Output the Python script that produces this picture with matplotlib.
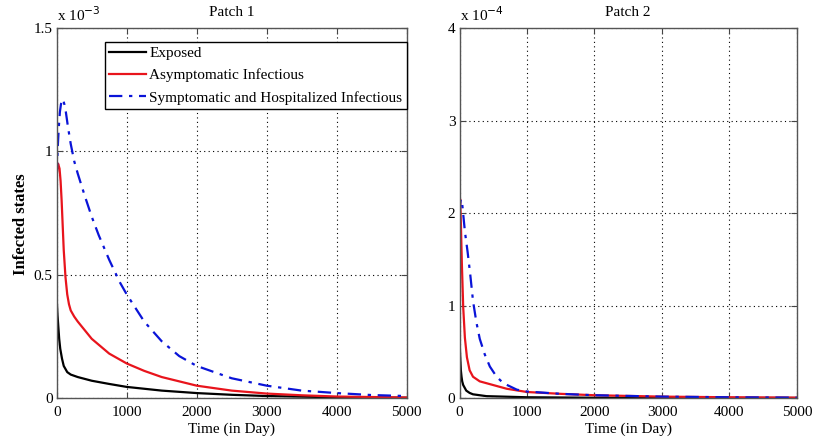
import matplotlib.pyplot as plt

plt.rcParams['font.family'] = 'Liberation Serif'
plt.rcParams['font.size'] = 11

# Patch 1 (values in units of 1e-3)
t_exp1 = [0, 10, 20, 35, 50, 75, 100, 150, 200, 300, 500, 750, 1000, 1500, 2000, 2500, 3000, 4000, 5000]
exposed1 = [0.40, 0.34, 0.30, 0.24, 0.20, 0.16, 0.13, 0.105, 0.095, 0.085, 0.07, 0.057, 0.045, 0.03, 0.02, 0.013, 0.008, 0.003, 0.001]

t_asym1 = [0, 10, 20, 40, 55, 70, 85, 100, 125, 150, 175, 200, 250, 300, 400, 500, 750, 1000, 1250, 1500, 2000, 2500, 3000, 3500, 4000, 4500, 5000]
asym1 = [0.90, 0.94, 0.95, 0.93, 0.88, 0.80, 0.70, 0.60, 0.49, 0.42, 0.38, 0.355, 0.33, 0.31, 0.275, 0.24, 0.18, 0.14, 0.11, 0.085, 0.05, 0.03, 0.018, 0.011, 0.006, 0.004, 0.002]

t_symp1 = [0, 15, 30, 45, 60, 75, 90, 110, 130, 160, 200, 250, 300, 400, 500, 600, 750, 900, 1000, 1250, 1500, 1750, 2000, 2500, 3000, 3500, 4000, 4500, 5000]
symp1 = [0.90, 1.02, 1.10, 1.16, 1.19, 1.21, 1.21, 1.19, 1.16, 1.10, 1.03, 0.96, 0.91, 0.82, 0.735, 0.66, 0.56, 0.47, 0.42, 0.31, 0.23, 0.17, 0.13, 0.08, 0.05, 0.03, 0.02, 0.012, 0.008]

# Patch 2 (values in units of 1e-4)
t_exp2 = [0, 5, 10, 20, 30, 40, 55, 70, 100, 150, 200, 400, 1000, 2000, 3000, 5000]
exposed2 = [0.65, 0.55, 0.45, 0.30, 0.23, 0.18, 0.14, 0.12, 0.08, 0.055, 0.04, 0.02, 0.008, 0.003, 0.0015, 0.0005]

t_asym2 = [0, 5, 10, 20, 35, 55, 80, 110, 150, 200, 300, 450, 700, 1000, 1500, 2000, 3000, 4000, 5000]
asym2 = [2.00, 2.12, 2.15, 1.90, 1.45, 0.98, 0.65, 0.44, 0.30, 0.23, 0.18, 0.15, 0.10, 0.065, 0.045, 0.03, 0.015, 0.008, 0.004]

t_symp2 = [0, 10, 20, 40, 60, 80, 120, 160, 200, 250, 300, 375, 450, 550, 650, 850, 1000, 1500, 2000, 3000, 4000, 5000]
symp2 = [2.00, 2.10, 2.15, 2.10, 1.95, 1.80, 1.58, 1.33, 1.05, 0.82, 0.64, 0.47, 0.34, 0.23, 0.16, 0.09, 0.07, 0.045, 0.03, 0.015, 0.008, 0.004]

labels = ['Exposed', 'Asymptomatic Infectious', 'Symptomatic and Hospitalized Infectious']


def style_axes(ax, ymax, yticks, exponent):
    ax.set_xlim(0, 5000)
    ax.set_ylim(0, ymax)
    ax.set_xticks([0, 1000, 2000, 3000, 4000, 5000])
    ax.set_yticks(yticks)
    ax.set_yticklabels([('%g' % v) for v in yticks])
    ax.grid(True, linestyle=(0, (1, 3)), color='k', linewidth=0.8)
    ax.tick_params(direction='in', top=True, right=True, length=4, color='#444444',
                   labelsize=11)
    ax.tick_params(axis='x', pad=6)
    ax.tick_params(axis='y', pad=3)
    for s in ax.spines.values():
        s.set_color('#555555')
        s.set_linewidth(1.0)
    ax.set_xlabel('Time (in Day)', fontsize=11, labelpad=2)
    ax.text(0.0, 1.012, 'x 10$^{%d}$' % exponent, transform=ax.transAxes,
            fontsize=11, ha='left', va='bottom')


fig = plt.figure(figsize=(8.14, 4.47), dpi=100)
ax1 = fig.add_axes([0.0697, 0.1096, 0.4299, 0.8277])
ax2 = fig.add_axes([0.5645, 0.1096, 0.4145, 0.8277])

ax1.plot(t_exp1, exposed1, color='k', lw=1.6, label=labels[0])
ax1.plot(t_asym1, asym1, color='#e8141c', lw=1.6, label=labels[1])
ax1.plot(t_symp1, symp1, color='#0a14d8', lw=1.6, ls=(0, (6, 3, 1.5, 3)), label=labels[2])
style_axes(ax1, 1.5, [0, 0.5, 1, 1.5], -3)
ax1.set_title('Patch 1', fontsize=11, pad=9)
ax1.set_ylabel('Infected states', fontsize=12, fontweight='bold')
ax1.yaxis.set_label_coords(-0.08, 0.47)
leg = ax1.legend(loc='upper right', bbox_to_anchor=(1.0, 1 - 14 / 370), fontsize=11,
                 frameon=True, fancybox=False, edgecolor='k', framealpha=1,
                 borderaxespad=0, handlelength=2.4, handletextpad=0.2,
                 labelspacing=0.55, borderpad=0.3)
leg.get_frame().set_linewidth(1.0)

ax2.plot(t_exp2, exposed2, color='k', lw=1.6)
ax2.plot(t_asym2, asym2, color='#e8141c', lw=1.6)
ax2.plot(t_symp2, symp2, color='#0a14d8', lw=1.6, ls=(0, (6, 3, 1.5, 3)))
style_axes(ax2, 4, [0, 1, 2, 3, 4], -4)
ax2.set_title('Patch 2', fontsize=11, pad=9)

fig.savefig('out.png', dpi=100)
